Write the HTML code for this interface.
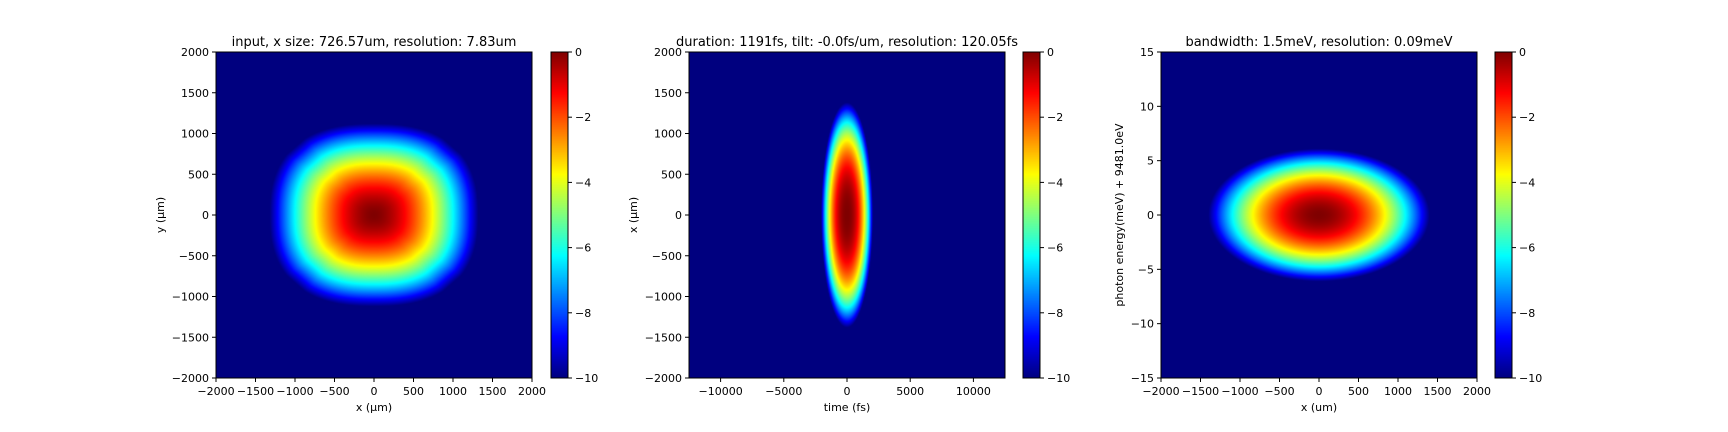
<!DOCTYPE html>
<html><head><meta charset="utf-8">
<style>
html,body{margin:0;padding:0;background:#fff;width:1728px;height:432px;overflow:hidden}
svg text{font-family:"DejaVu Sans","Liberation Sans",sans-serif;fill:#000}
</style></head>
<body>
<svg id="fig" width="1728" height="432" xmlns="http://www.w3.org/2000/svg"></svg>
<script>
// ---- data ----
const panelTitles = ["input, x size: 726.57um, resolution: 7.83um","duration: 1191fs, tilt: -0.0fs/um, resolution: 120.05fs","bandwidth: 1.5meV, resolution: 0.09meV"];
const xLabels = ["x (\u03bcm)","time (fs)","x (um)"];
const yLabels = ["y (\u03bcm)","x (\u03bcm)","photon energy(meV) + 9481.0eV"];
const xRanges = [[-2000,2000],[-12500,12500],[-2000,2000]];
const yRanges = [[-2000,2000],[-2000,2000],[-15,15]];
const xTicks = [[-2000,-1500,-1000,-500,0,500,1000,1500,2000],[-10000,-5000,0,5000,10000],[-2000,-1500,-1000,-500,0,500,1000,1500,2000]];
const yTicks = [[-2000,-1500,-1000,-500,0,500,1000,1500,2000],[-2000,-1500,-1000,-500,0,500,1000,1500,2000],[-15,-10,-5,0,5,10,15]];
const cbTicks = [0,-2,-4,-6,-8,-10];
// beam half-widths (extent where log intensity reaches -10) and profile exponents
const beamWx = [1320,2050,1400];
const beamWy = [1120,1380,6.1];
const beamPow = [1.7,2.4,1.9];
const beamShape = ["squircle","ellipse","ellipse"];
const vmin=-10, vmax=0;

const axLeft=[216,689,1161], axTop=52, axW=316, axH=326, cbLeft=[551,1023,1495], cbW=17;
const NS="http://www.w3.org/2000/svg";
const svg=document.getElementById('fig');
function el(tag,attrs,parent){const e=document.createElementNS(NS,tag);for(const k in attrs)e.setAttribute(k,attrs[k]);(parent||svg).appendChild(e);return e;}
function jet(v){
  const r=Math.min(Math.max(1.5-Math.abs(4*v-3),0),1);
  const g=Math.min(Math.max(1.5-Math.abs(4*v-2),0),1);
  const b=Math.min(Math.max(1.5-Math.abs(4*v-1),0),1);
  return [r*255|0,g*255|0,b*255|0];
}
function fmt(v){return v<0?"\u2212"+(-v):String(v);}
function field(p,x,y){
  const u=Math.abs(x/beamWx[p]), w=Math.abs(y/beamWy[p]);
  let n;
  if(beamShape[p]==="squircle"){n=Math.max(Math.pow(Math.pow(u,2.5)+Math.pow(w,2.5),1/2.5),(u+w)/1.5);}
  else n=Math.hypot(u,w);
  return -10*Math.pow(n,beamPow[p]);
}
for(let p=0;p<3;p++){
  const g=el('g',{});
  
  
  const X0=axLeft[p];
  const sx=v=>X0+(v-xRanges[p][0])/(xRanges[p][1]-xRanges[p][0])*axW;
  const sy=v=>axTop+axH-(v-yRanges[p][0])/(yRanges[p][1]-yRanges[p][0])*axH;
  const c=document.createElement('canvas');c.width=axW;c.height=axH;
  const ctx=c.getContext('2d');const im=ctx.createImageData(axW,axH);
  for(let j=0;j<axH;j++)for(let i=0;i<axW;i++){
    const x=xRanges[p][0]+(i+0.5)/axW*(xRanges[p][1]-xRanges[p][0]);
    const y=yRanges[p][1]-(j+0.5)/axH*(yRanges[p][1]-yRanges[p][0]);
    let v=Math.max(vmin,Math.min(vmax,field(p,x,y)));
    const col=jet((v-vmin)/(vmax-vmin));const k=(j*axW+i)*4;
    im.data[k]=col[0];im.data[k+1]=col[1];im.data[k+2]=col[2];im.data[k+3]=255;
  }
  ctx.putImageData(im,0,0);
  const img=el('image',{x:X0,y:axTop,width:axW,height:axH,href:c.toDataURL()},g);
  
  
  const fr=el('rect',{x:X0,y:axTop,width:axW,height:axH,fill:'none',stroke:'#000','stroke-width':1},g);
  
  
  xTicks[p].forEach(t=>{const x=sx(t);el('line',{x1:x,x2:x,y1:axTop+axH,y2:axTop+axH+4,stroke:'#000'},g);
    const tx=el('text',{x:x,y:axTop+axH+17,'font-size':11,'text-anchor':'middle'},g);tx.textContent=fmt(t);
    
    });
  yTicks[p].forEach(t=>{const y=sy(t);el('line',{x1:X0-4,x2:X0,y1:y,y2:y,stroke:'#000'},g);
    const tx=el('text',{x:X0-7,y:y+4,'font-size':11,'text-anchor':'end'},g);tx.textContent=fmt(t);
    
    });
  const xl=el('text',{x:X0+axW/2,y:axTop+axH+33,'font-size':11,'text-anchor':'middle'},g);xl.textContent=xLabels[p];
  
  
  const ylx=X0-(p==0?52:p==1?52:38);
  const yl=el('text',{x:ylx,y:axTop+axH/2,'font-size':11,'text-anchor':'middle',transform:`rotate(-90 ${ylx} ${axTop+axH/2})`},g);yl.textContent=yLabels[p];
  
  
  const ti=el('text',{x:X0+axW/2,y:axTop-6,'font-size':13,'text-anchor':'middle'},g);ti.textContent=panelTitles[p];
  
  
  const cb=document.createElement('canvas');cb.width=1;cb.height=axH;const cc=cb.getContext('2d');
  for(let j=0;j<axH;j++){const col=jet(1-(j+0.5)/axH);cc.fillStyle=`rgb(${col[0]},${col[1]},${col[2]})`;cc.fillRect(0,j,1,1);}
  const cbi=el('image',{x:cbLeft[p],y:axTop,width:cbW,height:axH,href:cb.toDataURL(),preserveAspectRatio:'none'},g);
  
  
  el('rect',{x:cbLeft[p],y:axTop,width:cbW,height:axH,fill:'none',stroke:'#000'},g);
  cbTicks.forEach(t=>{const y=axTop+(vmax-t)/(vmax-vmin)*axH;const x=cbLeft[p]+cbW;
    el('line',{x1:x,x2:x+4,y1:y,y2:y,stroke:'#000'},g);
    const tx=el('text',{x:x+7,y:y+4,'font-size':11},g);tx.textContent=fmt(t);
    
    });
}
</script>
</body></html>
